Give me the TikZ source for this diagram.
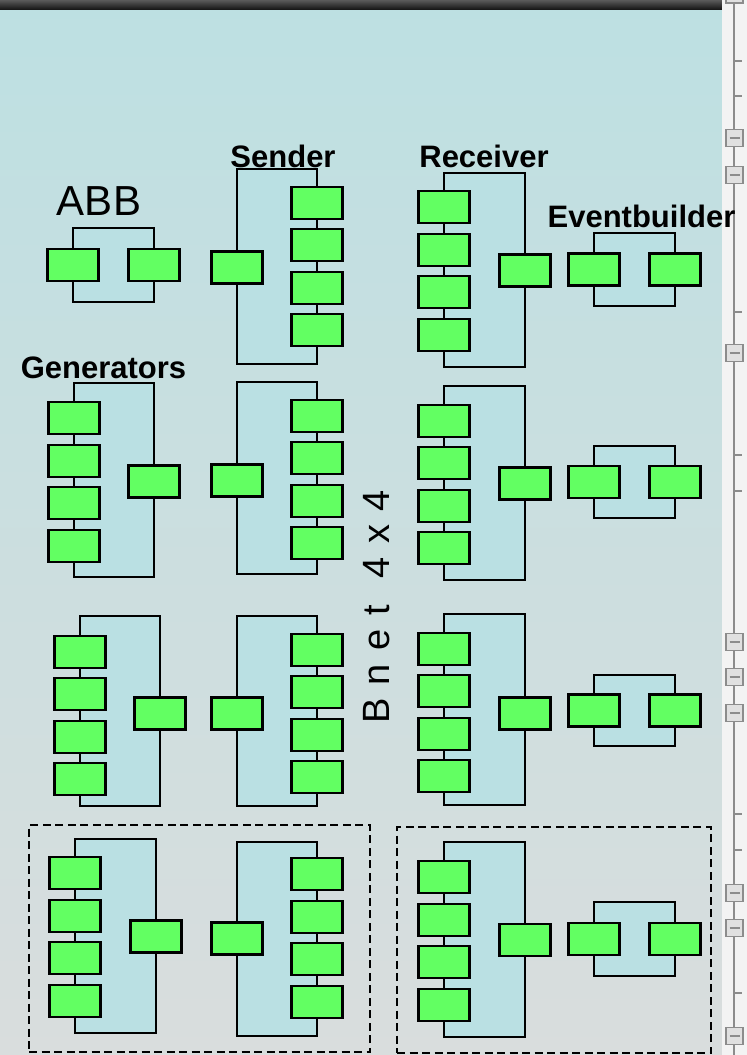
\documentclass[tikz,border=0pt]{standalone}
\usepackage{fontspec}
\setmainfont{Liberation Sans}
\definecolor{bgtop}{RGB}{189,224,226}
\definecolor{bgbot}{RGB}{217,221,221}
\definecolor{framec}{RGB}{186,224,227}
\definecolor{greenc}{RGB}{98,255,98}
\definecolor{stripc}{RGB}{243,243,243}
\definecolor{strokec}{RGB}{140,140,140}
\definecolor{bartop}{RGB}{90,90,90}
\definecolor{barbot}{RGB}{25,25,25}
\newcommand\PairBlk[5]{% name,left,right,cy,height
  \node[frame,minimum width={#3-#2},minimum height={#5}] (#1) at ({(#2+#3)/2},#4) {};
  \node[gbox] (#1a) at (#2,#4) {};
  \node[gbox] (#1b) at (#3,#4) {};}
\newcommand\FanOut[7]{% name,left,right,cy,height,single y,column centre y
  \node[frame,minimum width={#3-#2},minimum height={#5}] (#1) at ({(#2+#3)/2},#4) {};
  \node[gbox] (#1s) at (#2,#6) {};
  \foreach \k/\o in {1/-63.75,2/-21.25,3/21.25,4/63.75}
    \node[gbox] (#1c\k) at (#3,{#7+\o}) {};}
\newcommand\FanIn[7]{% name,left,right,cy,height,single y,column centre y
  \node[frame,minimum width={#3-#2},minimum height={#5}] (#1) at ({(#2+#3)/2},#4) {};
  \node[gbox] (#1s) at (#3,#6) {};
  \foreach \k/\o in {1/-63.75,2/-21.25,3/21.25,4/63.75}
    \node[gbox] (#1c\k) at (#2,{#7+\o}) {};}
\begin{document}
\begin{tikzpicture}[x=1pt,y=-1pt,
  frame/.style={draw=black,line width=1.8pt,fill=framec,inner sep=0pt,outer sep=0pt},
  gbox/.style={draw=black,line width=2.2pt,fill=greenc,inner sep=0pt,outer sep=0pt,
    minimum width=51pt,minimum height=32pt},
  dashbox/.style={draw=black,line width=2pt,dash pattern=on 8pt off 4.5pt,inner sep=0pt},
  bold lbl/.style={font=\fontsize{31}{31}\selectfont\bfseries,inner sep=0pt,anchor=base},
  strip mark/.style={draw=strokec,line width=1.6pt,fill=stripc!92!black}]
\useasboundingbox (0,0) rectangle (747,1055);
% background
\shade[top color=bgtop,bottom color=bgbot] (0,0) rectangle (722,1055);
\shade[top color=bartop,bottom color=barbot] (0,0) rectangle (722,9);
% right strip
\fill[stripc] (722,0) rectangle (747,1055);
\draw[strokec,line width=2pt] (734,0) -- (734,1055);
\foreach \t in {61,96,312,455,491,814,850,993}
  \draw[strokec,line width=1.5pt] (734,\t) -- (742,\t);
\foreach \b in {-5.5,138,175,353,642,677,713,893,928,1036}{
  \draw[strip mark] (726,\b-8.5) rectangle (743,\b+8.5);
  \draw[strokec,line width=1.5pt] (729.5,\b) -- (739.5,\b);}
% dashed groups
\node[dashbox,minimum width=341pt,minimum height=227pt] (grpL) at (199.5,938.5) {};
\node[dashbox,minimum width=314pt,minimum height=226pt] (grpR) at (554,940) {};
% row 1
\PairBlk{abb}{73}{154}{265}{74}
\FanOut{snda}{237}{317}{266.5}{195}{267.5}{266.5}
\FanIn{rcva}{444}{525}{270}{194}{270.5}{271}
\PairBlk{eba}{594}{675}{269.5}{73}
% row 2
\FanIn{genb}{74}{154}{480}{194}{481.5}{482}
\FanOut{sndb}{237}{317}{478}{192}{480.5}{479.5}
\FanIn{rcvb}{444}{525}{483}{194}{483.5}{484.5}
\PairBlk{ebb}{594}{675}{482}{72}
% row 3
\FanIn{genc}{80}{160}{711}{190}{713.5}{715.5}
\FanOut{sndc}{237}{317}{711}{190}{713.5}{713.5}
\FanIn{rcvc}{444}{525}{709.5}{191}{713.5}{712.5}
\PairBlk{ebc}{594}{675}{710.5}{71}
% row 4
\FanIn{gend}{75}{156}{936}{194}{936.5}{937}
\FanOut{sndd}{237}{317}{939}{194}{938.5}{938}
\FanIn{rcvd}{444}{525}{939.5}{195}{940}{941}
\PairBlk{ebd}{594}{675}{939}{74}
% labels
\node[font=\fontsize{42}{42}\selectfont,inner sep=0pt,anchor=base] (tabb) at (99,215) {ABB};
\node[bold lbl] (tsnd) at (283,167) {Sender};
\node[bold lbl] (trcv) at (484,167) {Receiver};
\node[bold lbl] (teb) at (641.5,227) {Eventbuilder};
\node[bold lbl] (tgen) at (103.5,378) {Generators};
\node[font=\fontsize{38}{38}\selectfont,inner sep=0pt,anchor=base,rotate=90] (tbnet) at (389,607)
  {\spaceskip=13.5pt B n e t\ \ 4 x 4};
\end{tikzpicture}
\end{document}
